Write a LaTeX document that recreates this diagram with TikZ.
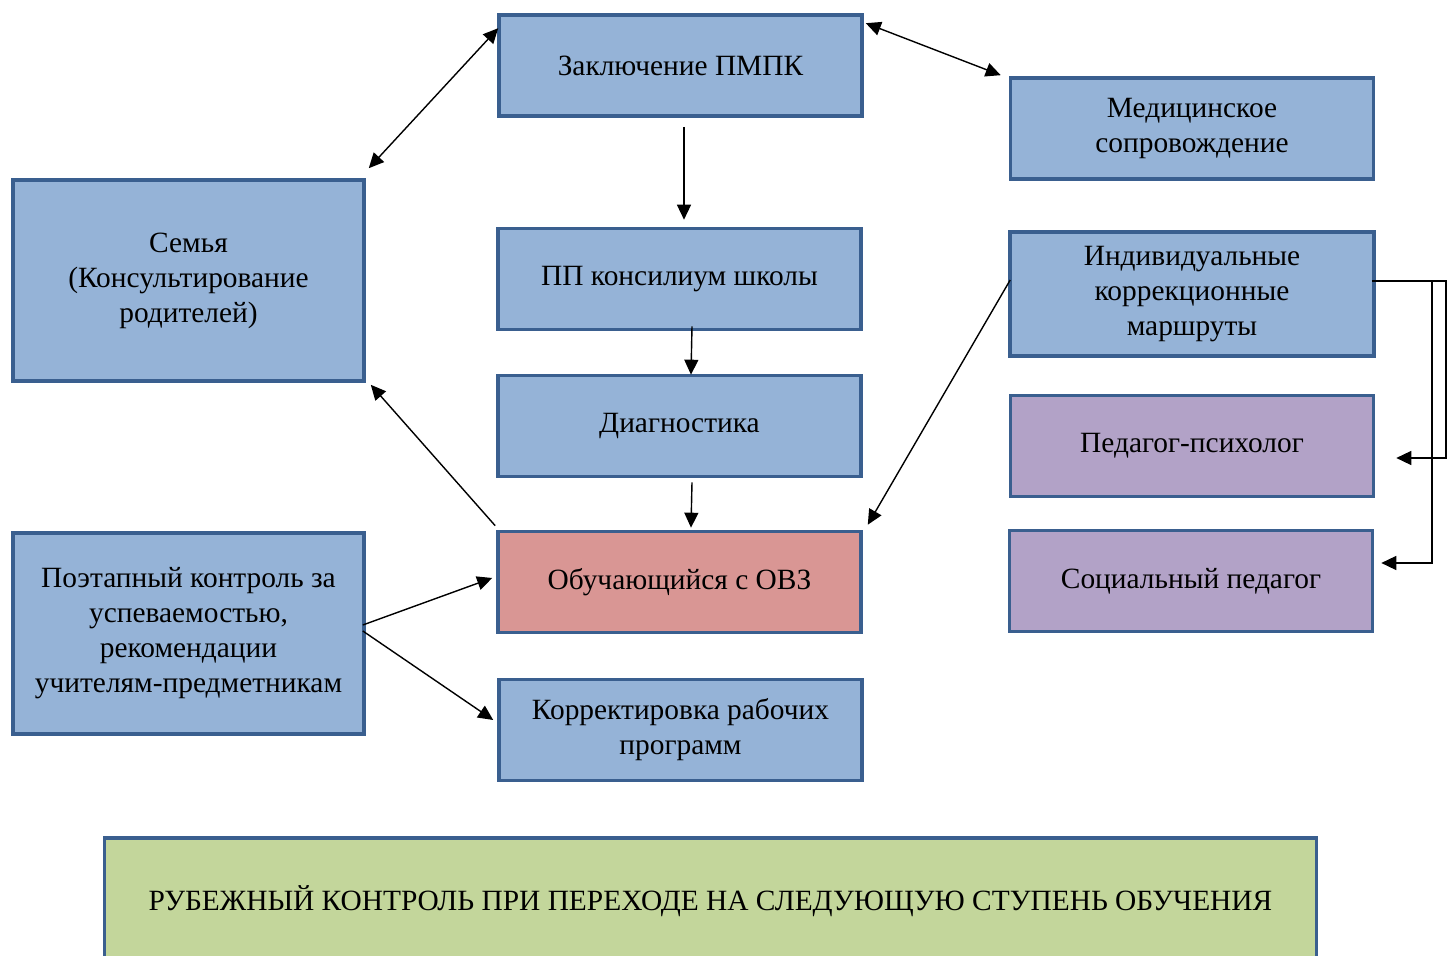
\documentclass[tikz,border=0pt]{standalone}
\usepackage{fontspec}
\setmainfont{Liberation Serif}
\usetikzlibrary{arrows.meta}
\definecolor{blockline}{HTML}{3A5F8F}
\definecolor{blockblue}{HTML}{95B3D7}
\definecolor{blockpink}{HTML}{D99694}
\definecolor{blocklilac}{HTML}{B2A2C7}
\definecolor{blockgreen}{HTML}{C3D69B}

\begin{document}
\begin{tikzpicture}[x=0.5pt, y=-0.5pt,
        block/.style={draw=blockline, line width=1.8pt, fill=blockblue, align=center,
            minimum width=181.5pt, minimum height=50.5pt, inner sep=2pt,
            font=\fontsize{14.7pt}{17.5pt}\selectfont},
        bigblock/.style={block, minimum width=175.5pt, minimum height=100.5pt},
        arr/.style={-{Triangle[length=7.5pt,width=7pt]}, line width=0.7pt},
        dblarr/.style={{Triangle[length=7.5pt,width=7pt]}-{Triangle[length=7.5pt,width=7pt]}, line width=0.7pt}]
    \useasboundingbox (0,0) rectangle (1447,956);

    % Блоки центральной колонки
    \node[block] (pmpk)  at (680.5,65.5) {Заключение ПМПК};
    \node[block] (ppk)   at (679.5,279)  {ПП консилиум школы};
    \node[block] (diag)  at (679.5,426)  {Диагностика};
    \node[block, fill=blockpink] (pupil) at (679.5,582) {Обучающийся с ОВЗ};
    \node[block] (corr)  at (680.5,730)  {Корректировка рабочих\\программ};

    % Левая колонка
    \node[bigblock] (family) at (188.5,280.5) {Семья\\(Консультирование\\родителей)};
    \node[bigblock] (stage)  at (188.5,633.5) {Поэтапный контроль за\\успеваемостью,\\рекомендации\\учителям-предметникам};

    % Правая колонка
    \node[block] (med) at (1192,128.5) {Медицинское\\сопровождение};
    \node[block, minimum width=182pt, minimum height=62pt] (ind) at (1192,294) {Индивидуальные\\коррекционные\\маршруты};
    \node[block, fill=blocklilac] (psy) at (1192,446) {Педагог-психолог};
    \node[block, fill=blocklilac] (soc) at (1191,581) {Социальный педагог};

    % Нижний блок
    \node[block, fill=blockgreen, minimum width=606pt, minimum height=63pt] (final) at (710.5,901)
        {РУБЕЖНЫЙ КОНТРОЛЬ ПРИ ПЕРЕХОДЕ НА СЛЕДУЮЩУЮ СТУПЕНЬ ОБУЧЕНИЯ};

    % Стрелки
    \draw[dblarr] ([shift={(1,15)}]pmpk.north west) -- ([shift={(3,-10)}]family.north east);
    \draw[dblarr] ([shift={(2,10)}]pmpk.north east) -- ([shift={(-8,-1)}]med.north west);
    \draw[arr] ([shift={(3.5,9)}]pmpk.south) -- ([shift={(4.5,-7)}]ppk.north);
    \draw[arr] ([shift={(12.5,-5)}]ppk.south) -- ([shift={(11.5,1)}]diag.north);
    \draw[arr] ([shift={(12.5,4)}]diag.south) -- ([shift={(11.5,-2)}]pupil.north);
    \draw[arr] ([shift={(-1,-4)}]pupil.north west) -- ([shift={(5,2)}]family.south east);
    \draw[arr] ([shift={(2,-14)}]ind.west) -- ([shift={(5,-5)}]pupil.north east);
    \draw[arr] ([shift={(-3,-8.5)}]stage.east) -- ([shift={(-4,-4)}]pupil.west);
    \draw[arr] ([shift={(-3,-2.5)}]stage.east) -- ([shift={(-4,-10)}]corr.west);

    % Скобка справа
    \draw[arr] ([shift={(-4,-13)}]ind.east) -- ++(74,0) |- ([shift={(21,12)}]psy.east);
    \draw[arr] ([shift={(56,-13)}]ind.east) |- ([shift={(7,-18)}]soc.east);
\end{tikzpicture}
\end{document}
